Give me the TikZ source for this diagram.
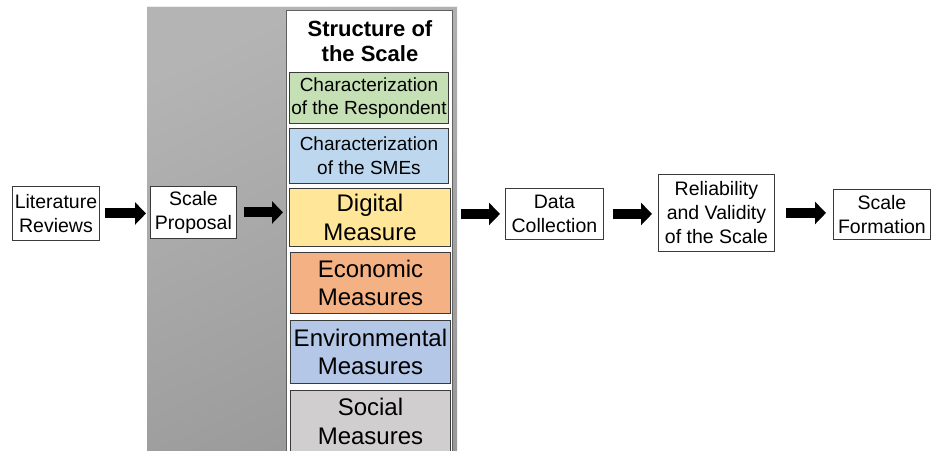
\documentclass[tikz,border=0pt]{standalone}
\usepackage{fontspec}
\setmainfont{Liberation Sans}
\usetikzlibrary{arrows.meta,calc}
\definecolor{cgreen}{HTML}{C5E0B4}
\definecolor{cblueA}{HTML}{BDD7EE}
\definecolor{cyellow}{HTML}{FFE699}
\definecolor{corange}{HTML}{F4B183}
\definecolor{cblueB}{HTML}{B4C7E7}
\definecolor{cgray}{HTML}{D0CECE}
\definecolor{cborder}{HTML}{3A3A3A}
\definecolor{panelL}{HTML}{B4B4B4}
\definecolor{panelD}{HTML}{9A9A9A}
\tikzset{
  flowbox/.style={draw=cborder, line width=0.9pt, fill=white, align=center, inner sep=0pt,
    anchor=north west, font=\fontsize{19.5}{24}\selectfont},
  smallpart/.style={draw=cborder, line width=0.9pt, align=center, inner sep=0pt,
    anchor=north west, font=\fontsize{19}{23.5}\selectfont},
  bigpart/.style={draw=cborder, line width=0.9pt, align=center, inner sep=0pt,
    anchor=north west, font=\fontsize{24}{28.5}\selectfont},
  blockarrow/.style={line width=10pt, -{Triangle[length=11pt,width=22pt]}}
}
\begin{document}
\begin{tikzpicture}[x=1pt,y=-1pt]
\useasboundingbox (0,0) rectangle (932,450);
\begin{scope}
\clip (0,0) rectangle (932,450);
% gray panel
\shade[top color=panelL, bottom color=panelD, shading angle=25] (147,6) rectangle (457,460);
\draw[white!85!gray, line width=1pt] (147,6.5) -- (457,6.5);
% structure box
\node[draw=cborder!80, line width=1.2pt, fill=white, anchor=north west, minimum width=166pt, minimum height=450pt, inner sep=0pt] (struct) at (286,10) {};
\node[font=\bfseries\fontsize{22}{25}\selectfont, align=center, anchor=north] (title) at (370,17) {Structure of\\the Scale};
\node[smallpart, fill=cgreen, minimum width=159pt, minimum height=51pt] (resp) at (289,72) {Characterization\\of the Respondent};
\node[smallpart, fill=cblueA, minimum width=159pt, minimum height=55pt] (smes) at (289,128) {Characterization\\of the SMEs};
\node[bigpart, fill=cyellow, minimum width=161pt, minimum height=58pt] (digital) at (289,188) {Digital\\Measure};
\node[bigpart, fill=corange, minimum width=160pt, minimum height=61pt] (econ) at (290,252) {Economic\\Measures};
\node[bigpart, fill=cblueB, minimum width=160pt, minimum height=63pt] (env) at (290,320) {Environmental\\Measures};
\node[bigpart, fill=cgray, minimum width=160pt, minimum height=62pt] (social) at (290,390) {Social\\Measures};
\end{scope}
% flow boxes
\node[flowbox, minimum width=87pt, minimum height=54pt] (lit) at (12,186) {Literature\\Reviews};
\node[flowbox, minimum width=86pt, minimum height=52pt] (prop) at (150,186) {Scale\\Proposal};
\node[flowbox, minimum width=98pt, minimum height=51pt] (data) at (505,188) {Data\\Collection};
\node[flowbox, minimum width=116pt, minimum height=77pt] (rel) at (658,174) {Reliability\\and Validity\\of the Scale};
\node[flowbox, minimum width=97pt, minimum height=50pt] (form) at (833,189) {Scale\\Formation};
% arrows
\draw[blockarrow, shorten <=5pt, shorten >=4pt] (lit.east) -- (lit.east -| prop.west);
\draw[blockarrow, shorten <=7pt, shorten >=3pt] (prop.east) -- (prop.east -| struct.west);
\draw[blockarrow, shorten <=8pt, shorten >=5pt] (data.west -| struct.east) -- (data.west);
\draw[blockarrow, shorten <=9pt, shorten >=6pt] (data.east) -- (data.east -| rel.west);
\draw[blockarrow, shorten <=11pt, shorten >=7pt] (rel.east) -- (rel.east -| form.west);
\end{tikzpicture}
\end{document}
